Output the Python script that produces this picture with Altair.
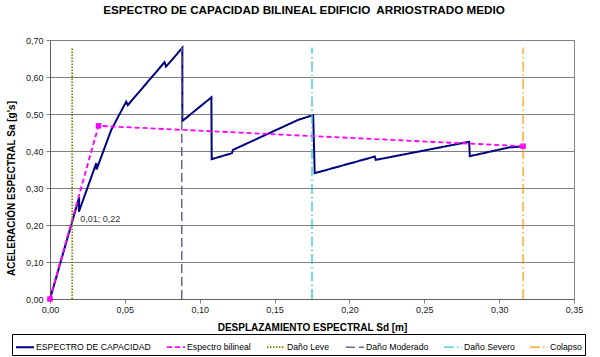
import altair as alt
import pandas as pd

title_text = "ESPECTRO DE CAPACIDAD BILINEAL EDIFICIO\u00a0 ARRIOSTRADO MEDIO"
x_title = "DESPLAZAMIENTO ESPECTRAL Sd [m]"
y_title = "ACELERACIÓN ESPECTRAL Sa [g's]"

series_names = ["ESPECTRO DE CAPACIDAD", "Espectro bilineal", "Daño Leve",
                "Daño Moderado", "Daño Severo", "Colapso"]
series_colors = ["#000080", "#FF00FF", "#808000", "#666699", "#33CCCC", "#FF9900"]
series_dash = [[1, 0], [5, 3], [1.5, 1.5], [9, 4], [10, 3, 1.5, 3], [10, 3, 1.5, 3]]
series_width = [2, 1.2, 1.3, 2, 1.5, 1.5]

# Capacity curve
cap_sd = [0.0, 0.0195, 0.0193, 0.0309, 0.0311, 0.0409, 0.0465, 0.0509, 0.0520,
          0.0765, 0.0775, 0.0884, 0.0884, 0.1078, 0.1080, 0.1215, 0.1222,
          0.1657, 0.1758, 0.1768, 0.2169, 0.2176, 0.2800, 0.2804, 0.3070, 0.3160]
cap_sa = [0.0, 0.275, 0.236, 0.367, 0.350, 0.457, 0.500, 0.533, 0.524,
          0.640, 0.628, 0.679, 0.481, 0.545, 0.378, 0.394, 0.403,
          0.484, 0.497, 0.340, 0.385, 0.376, 0.425, 0.386, 0.410, 0.412]

# Bilinear spectrum
bil_sd = [0.0, 0.0324, 0.3160]
bil_sa = [0.0, 0.468, 0.413]

# Damage thresholds (vertical lines)
dmg_names = ["Daño Leve", "Daño Moderado", "Daño Severo", "Colapso"]
dmg_sd = [0.0148, 0.088, 0.175, 0.316]
dmg_sa_low = [0.0, 0.0, 0.0, 0.0]
dmg_sa_top = [0.68, 0.68, 0.68, 0.68]

# Data label
lbl_sd = [0.0148]
lbl_sa = [0.22]
lbl_text = ["0,01; 0,22"]

x_ticks = [0.0, 0.05, 0.10, 0.15, 0.20, 0.25, 0.30, 0.35]
y_ticks = [0.0, 0.1, 0.2, 0.3, 0.4, 0.5, 0.6, 0.7]

rows = []
for i, (sd, sa) in enumerate(zip(cap_sd, cap_sa)):
    rows.append({"serie": series_names[0], "sd": sd, "sa": sa, "orden": i})
for i, (sd, sa) in enumerate(zip(bil_sd, bil_sa)):
    rows.append({"serie": series_names[1], "sd": sd, "sa": sa, "orden": i})
for name, sd, lo, hi in zip(dmg_names, dmg_sd, dmg_sa_low, dmg_sa_top):
    rows.append({"serie": name, "sd": sd, "sa": lo, "orden": 0})
    rows.append({"serie": name, "sd": sd, "sa": hi, "orden": 1})
df = pd.DataFrame(rows)

sq_df = pd.DataFrame({"sd": bil_sd, "sa": bil_sa})
lbl_df = pd.DataFrame({"sd": lbl_sd, "sa": lbl_sa, "txt": lbl_text})

FONT = "Liberation Sans"
LBL = "replace(format(datum.value, '.2f'), '.', ',')"

x_enc = alt.X("sd:Q", scale=alt.Scale(domain=[0, 0.35], nice=False, zero=False),
              axis=alt.Axis(values=x_ticks, tickCount=20, title=x_title, labelExpr=LBL,
                            grid=False, tickSize=4, tickColor="#808080",
                            domainColor="#606060", labelFontSize=9, labelFont=FONT,
                            labelColor="#222222", labelPadding=2, labelFlush=False,
                            labelOverlap=False,
                            titleFont=FONT, titleFontSize=10, titleFontWeight="bold",
                            titleColor="black", titlePadding=8))
y_enc = alt.Y("sa:Q", scale=alt.Scale(domain=[0, 0.7], nice=False),
              axis=alt.Axis(values=y_ticks, tickCount=20, title=y_title, labelExpr=LBL,
                            grid=True, gridColor="#808080", gridWidth=1,
                            tickSize=4, tickColor="#808080",
                            domainColor="#606060", labelFontSize=9, labelFont=FONT,
                            labelColor="#222222", labelPadding=3, labelFlush=False,
                            labelOverlap=False,
                            titleFont=FONT, titleFontSize=10, titleFontWeight="bold",
                            titleColor="black", titleAngle=270, titleAlign="center",
                            titleBaseline="middle", titleX=-39, titleY=148))

leg = alt.Legend(title=None, orient="none", legendX=-38, legendY=294,
                 direction="horizontal", strokeColor="black", padding=3,
                 columnPadding=12, symbolSize=324, symbolType="stroke",
                 labelFont=FONT, labelFontSize=8.7, labelColor="black",
                 labelOffset=1, fillColor="white")

color_enc = alt.Color("serie:N", scale=alt.Scale(domain=series_names, range=series_colors), legend=leg)
dash_enc = alt.StrokeDash("serie:N", scale=alt.Scale(domain=series_names, range=series_dash), legend=leg)
width_enc = alt.StrokeWidth("serie:N", scale=alt.Scale(domain=series_names, range=series_width), legend=leg)

main_lines = alt.Chart(df).transform_filter(
    alt.FieldOneOfPredicate(field="serie", oneOf=series_names[:2])
).mark_line(strokeJoin="miter").encode(
    x=x_enc, y=y_enc, color=color_enc, strokeDash=dash_enc, strokeWidth=width_enc,
    order="orden:Q")

squares = alt.Chart(sq_df).mark_square(size=30, color="#FF00FF", opacity=1, clip=False).encode(
    x=x_enc, y=y_enc)

dmg_lines = alt.Chart(df).transform_filter(
    alt.FieldOneOfPredicate(field="serie", oneOf=dmg_names)
).mark_line().encode(
    x=x_enc, y=y_enc, color=color_enc, strokeDash=dash_enc, strokeWidth=width_enc,
    order="orden:Q")

labels = alt.Chart(lbl_df).mark_text(align="left", baseline="middle", dx=8, dy=1,
                                     font=FONT, fontSize=9, color="#333333").encode(
    x=x_enc, y=y_enc, text="txt:N")

chart = alt.layer(main_lines, squares, dmg_lines, labels).properties(
    width=524, height=259,
    title=alt.TitleParams(title_text, font=FONT, fontSize=11.7, fontWeight="bold",
                          color="black", anchor="middle", offset=19, dx=-8),
    autosize=alt.AutoSizeParams(type="none"),
    padding={"left": 50, "top": 40, "right": 26, "bottom": 58},
    background="white",
).configure_view(stroke="#808080", strokeWidth=1)

chart.save("out.html", embed_options={"renderer": "svg", "actions": False})
